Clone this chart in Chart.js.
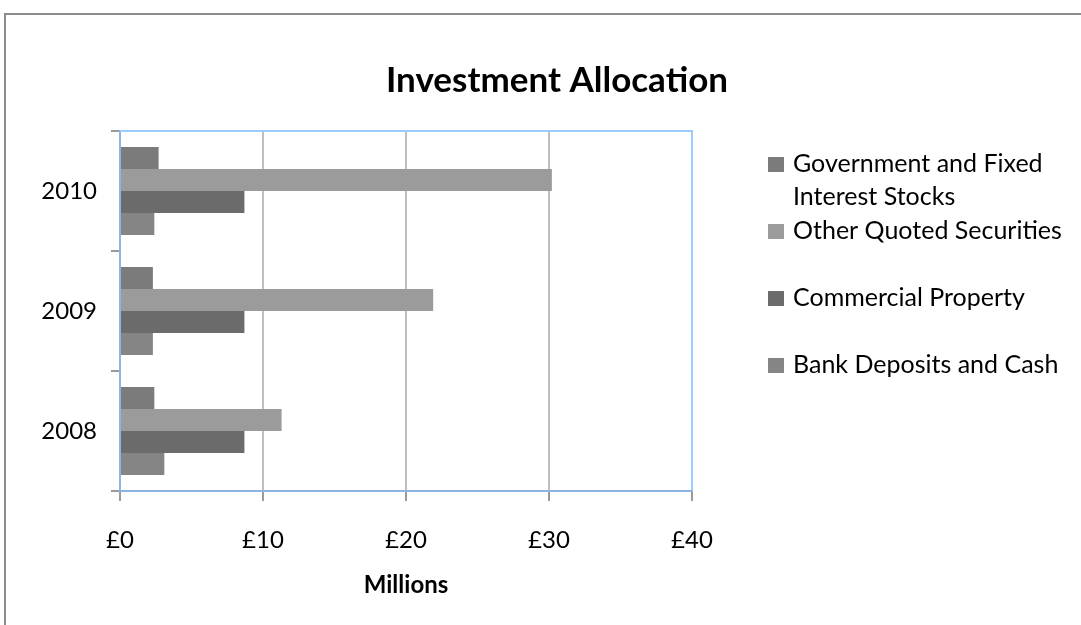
<!DOCTYPE html>
<html>
<head>
<meta charset="utf-8">
<title>Investment Allocation</title>
<script src="https://cdn.jsdelivr.net/npm/chart.js@4/dist/chart.umd.min.js"></script>
<style>
  body { margin: 0; background: #ffffff; }
  #wrap { width: 1081px; height: 625px; }
</style>
</head>
<body>
<div id="wrap"><canvas id="graph" width="1081" height="625"></canvas></div>
<script>
// values in £ millions
const years = ['2010', '2009', '2008'];
const govStocks = [2.7, 2.3, 2.4];
const otherQuoted = [30.2, 21.9, 11.3];
const commercialProperty = [8.7, 8.7, 8.7];
const bankCash = [2.4, 2.3, 3.1];
const seriesNames = [
    'Government and Fixed Interest Stocks',
    'Other Quoted Securities',
    'Commercial Property',
    'Bank Deposits and Cash'
];
const seriesColors = ['#7b7b7b', '#9b9b9b', '#6b6b6b', '#858585'];
const xTicks = [0, 10, 20, 30, 40];

const FONT = 'Lato, "Open Sans", sans-serif';

//draws the outer frame, title, top border of the plot and the wrapped legend
const extras = {
    id: 'extras',
    afterDraw(chart) {
        const ctx = chart.ctx;
        const area = chart.chartArea;
        ctx.save();

        //outer frame (only top and left show in the picture)
        ctx.strokeStyle = '#8c8c8c';
        ctx.lineWidth = 2;
        ctx.beginPath();
        ctx.moveTo(5, 625);
        ctx.lineTo(5, 14);
        ctx.lineTo(1081, 14);
        ctx.stroke();

        //top border of the plot
        ctx.strokeStyle = '#99ccff';
        ctx.lineWidth = 2;
        ctx.beginPath();
        ctx.moveTo(area.left, area.top);
        ctx.lineTo(area.right + 1, area.top);
        ctx.stroke();

        //title
        ctx.fillStyle = '#000';
        ctx.font = 'bold 35px ' + FONT;
        ctx.textAlign = 'center';
        ctx.textBaseline = 'middle';
        ctx.fillText('Investment Allocation', 557, 81);

        //legend
        ctx.font = '25px ' + FONT;
        ctx.textAlign = 'left';
        ctx.textBaseline = 'alphabetic';
        const maxW = 270;
        chart.data.datasets.forEach((ds, i) => {
            const base = 172 + 67 * i;
            ctx.fillStyle = ds.backgroundColor;
            ctx.fillRect(768, base - 15, 16, 15);
            ctx.fillStyle = '#000';
            //simple word wrap
            let words = ds.label.split(' ');
            let line = '';
            let y = base;
            words.forEach(w => {
                let test = line ? line + ' ' + w : w;
                if (ctx.measureText(test).width > maxW && line) {
                    ctx.fillText(line, 793, y);
                    line = w;
                    y += 33;
                } else {
                    line = test;
                }
            });
            ctx.fillText(line, 793, y);
        });
        ctx.restore();
    }
};

const seriesData = [govStocks, otherQuoted, commercialProperty, bankCash];

new Chart(document.getElementById('graph'), {
    type: 'bar',
    data: {
        labels: years,
        datasets: seriesData.map((d, i) => ({
            label: seriesNames[i],
            data: d,
            backgroundColor: seriesColors[i],
            borderWidth: 0,
            categoryPercentage: 0.733,
            barPercentage: 1.0
        }))
    },
    options: {
        indexAxis: 'y',
        responsive: false,
        animation: false,
        devicePixelRatio: 1,
        layout: { padding: { left: 0, top: 131, right: 389, bottom: 25 } },
        plugins: {
            legend: { display: false },
            title: { display: false },
            tooltip: { enabled: false }
        },
        scales: {
            x: {
                min: 0,
                max: 40,
                afterBuildTicks: (scale) => {
                    scale.ticks = xTicks.map(v => ({ value: v }));
                },
                afterFit: (scale) => { scale.height = 109; },
                ticks: {
                    color: '#000',
                    font: { family: FONT, size: 24 },
                    padding: 25,
                    callback: (v) => '£' + v
                },
                grid: {
                    color: (c) => c.tick && c.tick.value === 0 ? 'rgba(0,0,0,0)' :
                        (c.tick && c.tick.value === 40 ? '#99ccff' : '#bfbfbf'),
                    lineWidth: 2,
                    tickColor: '#9a9a9a',
                    tickLength: 10
                },
                border: { color: '#8eb4e3', width: 2 },
                title: {
                    display: true,
                    text: 'Millions',
                    color: '#000',
                    font: { family: FONT, size: 24, weight: 'bold' },
                    padding: { top: 8, bottom: 0 }
                }
            },
            y: {
                afterFit: (scale) => { scale.width = 120; },
                ticks: {
                    color: '#000',
                    font: { family: FONT, size: 24 },
                    padding: 14
                },
                grid: {
                    drawOnChartArea: false,
                    offset: true,
                    tickColor: '#9a9a9a',
                    tickLength: 9,
                    lineWidth: 2
                },
                border: { color: '#8eb4e3', width: 2 }
            }
        }
    },
    plugins: [extras]
});
</script>
</body>
</html>
